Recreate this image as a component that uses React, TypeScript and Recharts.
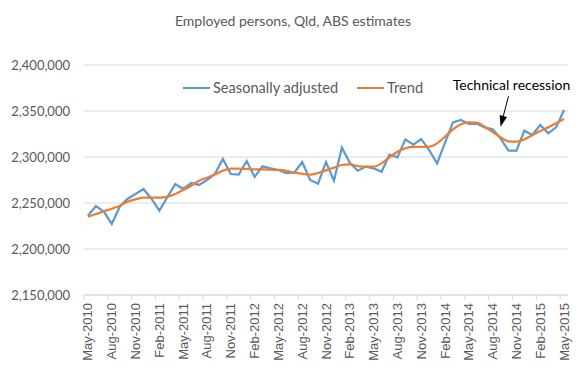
import React from 'react';
import { LineChart, Line, XAxis, YAxis, CartesianGrid, Legend, ReferenceLine, ReferenceDot } from 'recharts';

const months = [
  'May-2010', 'Jun-2010', 'Jul-2010', 'Aug-2010', 'Sep-2010', 'Oct-2010', 'Nov-2010', 'Dec-2010',
  'Jan-2011', 'Feb-2011', 'Mar-2011', 'Apr-2011', 'May-2011', 'Jun-2011', 'Jul-2011', 'Aug-2011',
  'Sep-2011', 'Oct-2011', 'Nov-2011', 'Dec-2011', 'Jan-2012', 'Feb-2012', 'Mar-2012', 'Apr-2012',
  'May-2012', 'Jun-2012', 'Jul-2012', 'Aug-2012', 'Sep-2012', 'Oct-2012', 'Nov-2012', 'Dec-2012',
  'Jan-2013', 'Feb-2013', 'Mar-2013', 'Apr-2013', 'May-2013', 'Jun-2013', 'Jul-2013', 'Aug-2013',
  'Sep-2013', 'Oct-2013', 'Nov-2013', 'Dec-2013', 'Jan-2014', 'Feb-2014', 'Mar-2014', 'Apr-2014',
  'May-2014', 'Jun-2014', 'Jul-2014', 'Aug-2014', 'Sep-2014', 'Oct-2014', 'Nov-2014', 'Dec-2014',
  'Jan-2015', 'Feb-2015', 'Mar-2015', 'Apr-2015', 'May-2015',
];

const seasonallyAdjusted = [
  2236200, 2246700, 2240600, 2227200, 2246000, 2254700, 2259800, 2265200,
  2254700, 2241700, 2256200, 2270600, 2265200, 2271700, 2269600, 2275000,
  2281500, 2297800, 2281500, 2280800, 2295600, 2278300, 2289900, 2287700,
  2285900, 2282600, 2283000, 2294600, 2275000, 2271000, 2294600, 2274300,
  2310100, 2293800, 2285100, 2289500, 2287700, 2284000, 2302500, 2299600,
  2319200, 2313400, 2319600, 2307600, 2293100, 2315600, 2337700, 2340200,
  2335900, 2336200, 2332200, 2330100, 2320300, 2306900, 2306900, 2328600,
  2323900, 2334800, 2325700, 2332200, 2351100,
];

const trend = [
  2235100, 2238000, 2241000, 2243800, 2247100, 2251400, 2254000, 2255800,
  2255800, 2255800, 2256900, 2259800, 2264100, 2268800, 2274300, 2277500,
  2281100, 2285100, 2287300, 2287300, 2287000, 2286600, 2286600, 2286200,
  2285900, 2284800, 2283000, 2281900, 2280800, 2282600, 2285500, 2288400,
  2291300, 2292000, 2290200, 2289500, 2289500, 2293100, 2299600, 2305800,
  2309400, 2310900, 2310900, 2311200, 2314800, 2322100, 2330100, 2335500,
  2337700, 2337300, 2332900, 2327200, 2321400, 2317000, 2316600, 2319200,
  2323900, 2328300, 2332200, 2336600, 2341300,
];

const yTicks = [2150000, 2200000, 2250000, 2300000, 2350000, 2400000];

const title = 'Employed persons, Qld, ABS estimates';
const annotationText = 'Technical recession';
const annotationLabelPoint = { x: 'Oct-2014', y: 2379000 };
const arrowFrom = { x: 'Oct-2014', y: 2366000 };
const arrowTo = { x: 'Sep-2014', y: 2333000 };

const data = months.map((m, i) => ({ month: m, sa: seasonallyAdjusted[i], trend: trend[i] }));

const BLUE = '#5B9BD5';
const ORANGE = '#ED7D31';
const TEXT = '#595959';
const GRID = '#d9d9d9';
const FONT = 'Lato, "Open Sans", sans-serif';

const HALF_CAT = 476 / 60 / 2;

const XTick = (props: any) => {
  const { x, y, payload } = props;
  return (
    <g>
      <line x1={x - HALF_CAT} x2={x - HALF_CAT} y1={y} y2={y + 5} stroke={GRID} strokeWidth={1} />
      <text
        x={0}
        y={0}
        transform={`translate(${x},${y + 8}) rotate(-90)`}
        textAnchor="end"
        dominantBaseline="central"
        fontSize={13}
        fill={TEXT}
        fontFamily='"Liberation Sans", Arial, sans-serif'
      >
        {payload.value}
      </text>
    </g>
  );
};

const LegendContent = () => (
  <div style={{ display: 'flex', alignItems: 'center', fontFamily: FONT, fontSize: 14.6, color: TEXT, whiteSpace: 'nowrap' }}>
    <span style={{ display: 'inline-block', width: 27, height: 0, borderTop: `2.25px solid ${BLUE}`, marginRight: 3 }} />
    <span>Seasonally adjusted</span>
    <span style={{ display: 'inline-block', width: 27, height: 0, borderTop: `2.25px solid ${ORANGE}`, marginLeft: 19, marginRight: 3 }} />
    <span>Trend</span>
  </div>
);

const ArrowShape = (props: any) => {
  const { x1, y1, x2, y2 } = props;
  const dx = x2 - x1;
  const dy = y2 - y1;
  const len = Math.sqrt(dx * dx + dy * dy) || 1;
  const ux = dx / len;
  const uy = dy / len;
  const headLen = 11;
  const headW = 3.8;
  const bx = x2 - ux * headLen;
  const by = y2 - uy * headLen;
  const px = -uy;
  const py = ux;
  return (
    <g>
      <line x1={x1} y1={y1} x2={bx} y2={by} stroke="#000" strokeWidth={1} />
      <polygon
        points={`${x2},${y2} ${bx + px * headW},${by + py * headW} ${bx - px * headW},${by - py * headW}`}
        fill="#000"
      />
    </g>
  );
};

const LabelShape = (props: any) => {
  const { cx, cy } = props;
  return (
    <text x={cx + 3} y={cy} textAnchor="middle" dominantBaseline="central" fontSize={14} fill="#000" fontFamily={FONT}>
      {annotationText}
    </text>
  );
};

export default function App() {
  return (
    <div style={{ position: 'relative', width: 586, height: 380, margin: -8, background: '#fff' }}>
      <div
        style={{
          position: 'absolute',
          top: 13,
          left: 0,
          width: 586,
          textAlign: 'center',
          fontFamily: FONT,
          fontSize: 14,
          lineHeight: '16px',
          color: TEXT,
          zIndex: 2,
        }}
      >
        {title}
      </div>
      <LineChart width={586} height={380} data={data} margin={{ top: 65, right: 18, left: 0, bottom: 0 }}>
        <CartesianGrid vertical={false} stroke={GRID} strokeWidth={1} />
        <XAxis
          dataKey="month"
          interval={2}
          padding={{ left: HALF_CAT, right: HALF_CAT }}
          axisLine={{ stroke: GRID, strokeWidth: 1 }}
          tickLine={false}
          tickSize={0}
          tickMargin={0}
          height={85}
          tick={<XTick />}
        />
        <YAxis
          domain={[2150000, 2400000]}
          ticks={yTicks}
          tickFormatter={(v: number) => v.toLocaleString('en-US')}
          axisLine={false}
          tickLine={false}
          tickSize={0}
          tickMargin={14}
          width={84}
          tick={{ fill: TEXT, fontSize: 13, fontFamily: FONT }}
        />
        <Legend
          layout="horizontal"
          verticalAlign="middle"
          align="center"
          content={<LegendContent />}
          wrapperStyle={{ position: 'absolute', top: 79, left: 183, width: 'auto' }}
        />
        <Line
          type="linear"
          dataKey="sa"
          name="Seasonally adjusted"
          stroke={BLUE}
          strokeWidth={2.25}
          dot={false}
          isAnimationActive={false}
        />
        <Line
          type="monotone"
          dataKey="trend"
          name="Trend"
          stroke={ORANGE}
          strokeWidth={2.25}
          dot={false}
          isAnimationActive={false}
        />
        <ReferenceLine segment={[arrowFrom, arrowTo]} shape={<ArrowShape />} ifOverflow="visible" />
        <ReferenceDot x={annotationLabelPoint.x} y={annotationLabelPoint.y} r={0} shape={<LabelShape />} ifOverflow="visible" />
      </LineChart>
    </div>
  );
}
